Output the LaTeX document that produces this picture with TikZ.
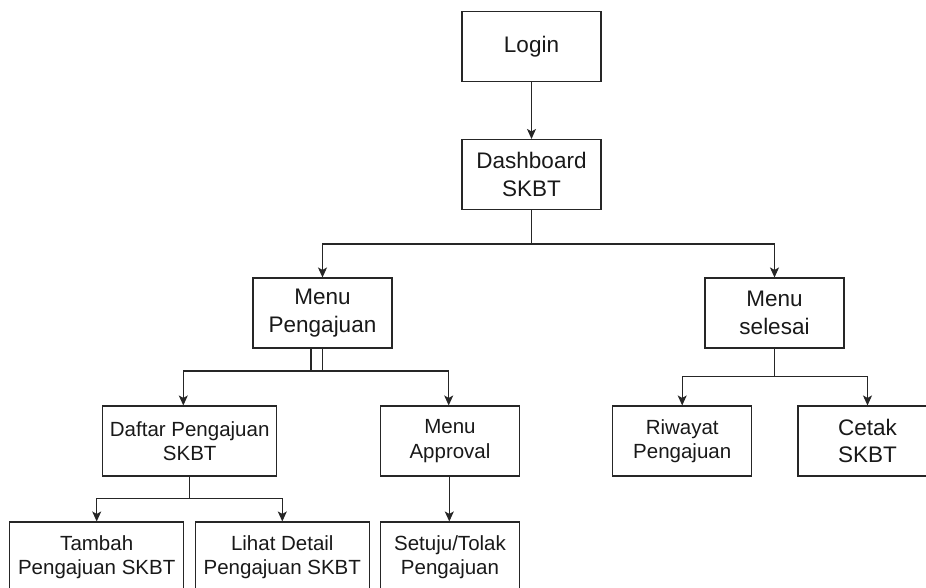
\documentclass[tikz,border=0pt]{standalone}
\usepackage{fontspec}
\setmainfont{Liberation Sans}
\usetikzlibrary{arrows.meta}
\begin{document}
\begin{tikzpicture}[x=1pt,y=-1pt,
  box/.style={draw=black!85, line width=1.1pt, align=center, inner sep=0pt,
    text=black!90, minimum height=70pt},
  big/.style={box, font=\fontsize{22.5}{27.5}\selectfont},
  small/.style={box, font=\fontsize{20.5}{24.5}\selectfont},
  arr/.style={draw=black!85, line width=1.1pt,
    -{Stealth[length=10pt,width=9pt,inset=2.5pt]}},
  plain/.style={draw=black!85, line width=1.1pt}]
\useasboundingbox (0,0) rectangle (926,588);
\clip (0,0) rectangle (926,588);

% boxes
\node[big, minimum width=139pt] (login) at (531.5,46.5) {Login};
\node[big, minimum width=139pt] (dash) at (531.5,174.5) {Dashboard\\SKBT};
\node[big, minimum width=139pt] (mp) at (322.5,313) {Menu\\Pengajuan};
\node[big, minimum width=139pt] (ms) at (774.5,313) {Menu\\selesai};
\node[small, minimum width=174pt] (daftar) at (189.7,441) {Daftar Pengajuan\\SKBT};
\node[small, minimum width=139pt] (appr) at (450,441) {Menu\\Approval};
\node[small, minimum width=139pt] (riw) at (682.2,441) {Riwayat\\Pengajuan};
\node[big, minimum width=139pt] (cetak) at (867.5,441) {Cetak\\SKBT};
\node[small, minimum width=174pt] (tambah) at (96.7,557) {Tambah\\Pengajuan SKBT};
\node[small, minimum width=174pt] (lihat) at (282.3,557) {Lihat Detail\\Pengajuan SKBT};
\node[small, minimum width=139pt] (setuju) at (450,557) {Setuju/Tolak\\Pengajuan};

% junction points
\coordinate (jd) at (531.5,244);
\coordinate (jpl) at (322.5,371);
\coordinate (jpr) at (311,371);
\coordinate (jdf) at (189.3,498.3);
\coordinate (js) at (774.5,376.7);

% connectors
\draw[arr] (login) -- (dash);
\draw[plain] (dash.south) -- (jd);
\draw[arr] (jd) -| (mp.north);
\draw[arr] (jd) -| (ms.north);

% two edges leave Menu Pengajuan side by side
\draw[plain] (mp.south) -- (jpl);
\draw[arr] (jpl) -| ([xshift=-6.4pt]daftar.north);
\draw[plain] ([xshift=-11.5pt]mp.south) -- (jpr);
\draw[arr] (jpr) -| ([xshift=-1.3pt]appr.north);

\draw[plain] ([xshift=-0.4pt]daftar.south) -- (jdf);
\draw[arr] (jdf) -| (tambah.north);
\draw[arr] (jdf) -| (lihat.north);

\draw[arr] ([xshift=-0.7pt]appr.south) -- ([xshift=-0.7pt]setuju.north);

\draw[plain] (ms.south) -- (js);
\draw[arr] (js) -| (riw.north);
\draw[arr] (js) -| (cetak.north);
\end{tikzpicture}
\end{document}
